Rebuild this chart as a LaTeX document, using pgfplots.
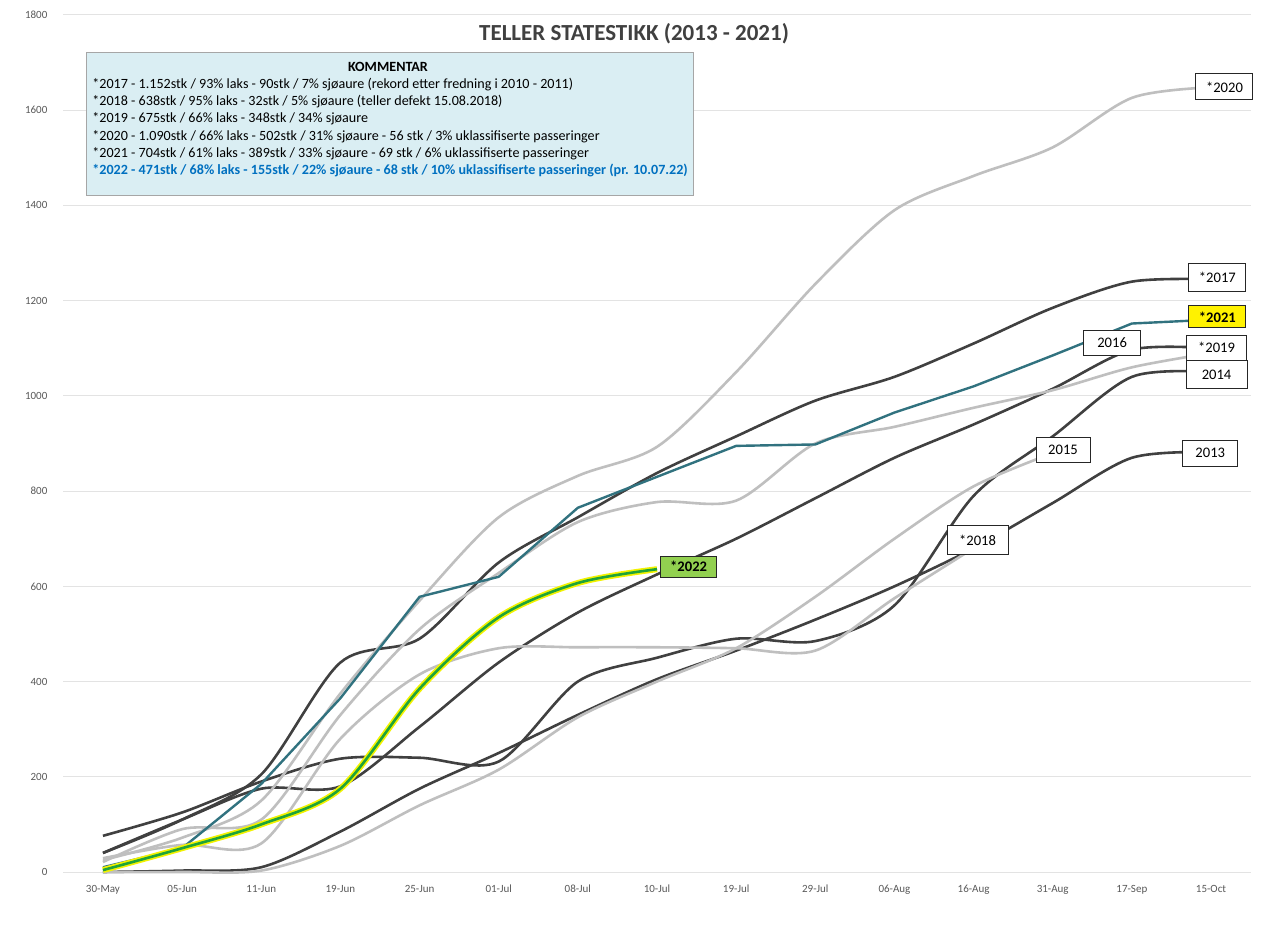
\documentclass[border=0pt]{standalone}
\usepackage{pgfplots}
\pgfplotsset{compat=1.18}
\usepackage{fontspec}
\setmainfont{Carlito}
\definecolor{dk}{HTML}{404040}
\definecolor{lg}{HTML}{BFBFBF}
\definecolor{tealc}{HTML}{31727F}
\definecolor{grn}{HTML}{1FA33A}
\definecolor{yel}{HTML}{F2F200}
\definecolor{lblgreen}{HTML}{92D050}
\definecolor{cbox}{HTML}{DAEEF3}
\definecolor{cblue}{HTML}{0070C0}
\definecolor{gridc}{HTML}{E3E3E3}
\definecolor{tickc}{HTML}{595959}
\begin{document}
\begin{tikzpicture}[
  lbl/.style={draw=black!85, line width=0.5pt, fill=white, font=\fontsize{7.3}{8}\selectfont, minimum width=28.5pt, minimum height=13pt, inner sep=0pt},
  cl/.style={anchor=base west, font=\fontsize{7.05}{8}\selectfont, inner sep=0pt}
]
\useasboundingbox (-31.7pt,-38.5pt) rectangle (599.8pt,436pt);
\fill[white] (-31.7pt,-38.5pt) rectangle (599.8pt,436pt);
\begin{axis}[at={(0pt,0pt)}, anchor=south west, scale only axis,
  width=593.6pt, height=428.5pt,
  xmin=-0.5, xmax=14.5, ymin=0, ymax=1800,
  xtick={0,...,14},
  xticklabels={30-May,05-Jun,11-Jun,19-Jun,25-Jun,01-Jul,08-Jul,10-Jul,19-Jul,29-Jul,06-Aug,16-Aug,31-Aug,17-Sep,15-Oct},
  ytick={0,200,...,1800},
  ymajorgrids, grid style={gridc, line width=0.5pt},
  axis line style={draw=none}, major tick length=0pt,
  tick label style={font=\fontsize{5.5}{6}\selectfont, color=tickc},
  /pgf/number format/assume math mode=true,
  /pgf/number format/set thousands separator={},
  yticklabel style={xshift=-4.5pt},
  xticklabel style={yshift=-3pt},
  clip=false,
]
% 2013
\addplot[dk, line width=1.3pt, smooth] coordinates {(0,0) (1,3) (2,10) (3,85) (4,175) (5,250) (6,330) (7,405) (8,465) (9,530) (10,600) (11,680) (12,775) (13,870) (14,882)};
% 2014
\addplot[dk, line width=1.3pt, smooth] coordinates {(0,76) (1,125) (2,190) (3,238) (4,240) (5,232) (6,400) (7,450) (8,490) (9,485) (10,560) (11,790) (12,915) (13,1040) (14,1050)};
% 2015
\addplot[lg, line width=1.3pt, smooth] coordinates {(0,0) (1,0) (2,3) (3,55) (4,140) (5,215) (6,325) (7,400) (8,470) (9,578) (10,700) (11,810) (12,880)};
% 2016
\addplot[dk, line width=1.3pt, smooth] coordinates {(0,40) (1,110) (2,175) (3,180) (4,305) (5,440) (6,545) (7,625) (8,700) (9,785) (10,870) (11,940) (12,1015) (13,1097) (14,1100)};
% 2017
\addplot[dk, line width=1.3pt, smooth] coordinates {(0,40) (1,110) (2,205) (3,440) (4,490) (5,650) (6,745) (7,838) (8,915) (9,990) (10,1040) (11,1110) (12,1185) (13,1240) (14,1245)};
% 2018
\addplot[lg, line width=1.3pt, smooth] coordinates {(0,29) (1,57) (2,60) (3,280) (4,415) (5,470) (6,472) (7,472) (8,470) (9,465) (10,575) (11,680)};
% 2019
\addplot[lg, line width=1.3pt, smooth] coordinates {(0,21) (1,90) (2,110) (3,330) (4,510) (5,628) (6,735) (7,777) (8,780) (9,900) (10,935) (11,975) (12,1012) (13,1060) (14,1090)};
% 2020
\addplot[lg, line width=1.3pt, smooth] coordinates {(0,25) (1,72) (2,150) (3,375) (4,570) (5,745) (6,832) (7,893) (8,1050) (9,1235) (10,1390) (11,1462) (12,1522) (13,1626) (14,1648)};
% 2021
\addplot[tealc, line width=1.2pt] coordinates {(0,10) (1,50) (2,185) (3,365) (4,578) (5,620) (6,765) (7,830) (8,895) (9,898) (10,965) (11,1020) (12,1085) (13,1152) (14,1160)};
% 2022 glow + line
\addplot[yel, line width=3pt, smooth] coordinates {(0,4) (1,50) (2,100) (3,175) (4,385) (5,535) (6,607) (7,636)};
\addplot[grn, line width=1.3pt, smooth] coordinates {(0,4) (1,50) (2,100) (3,175) (4,385) (5,535) (6,607) (7,636)};
% labels
\node[lbl] at (axis cs:14.17,1649) {*2020};
\node[lbl, minimum height=14pt] at (axis cs:14.08,1248) {*2017};
\node[lbl, fill=yellow, minimum height=11pt, font=\bfseries\fontsize{7.3}{8}\selectfont] at (axis cs:14.08,1166) {*2021};
\node[lbl, minimum height=12.5pt] at (axis cs:12.75,1111) {2016};
\node[lbl, minimum width=30pt, minimum height=12.5pt] at (axis cs:14.07,1101) {*2019};
\node[lbl, minimum width=30.5pt, minimum height=14pt] at (axis cs:14.07,1044) {2014};
\node[lbl, minimum width=27pt, minimum height=12.5pt] at (axis cs:12.13,886) {2015};
\node[lbl, minimum width=27.5pt] at (axis cs:13.99,880) {2013};
\node[lbl, minimum width=30.5pt, minimum height=14.5pt] at (axis cs:11.05,697) {*2018};
\node[lbl, fill=lblgreen, minimum width=28pt, minimum height=10.5pt, font=\bfseries\fontsize{7.3}{8}\selectfont] at (axis cs:7.4,641) {*2022};
\end{axis}
% title
\node[anchor=base, font=\bfseries\fontsize{11.5}{13}\selectfont, color=dk, inner sep=0pt] at (285.3pt,415.5pt) {TELLER STATESTIKK (2013 - 2021)};
% comment box
\draw[draw=black!35, fill=cbox, line width=0.5pt] (11.3pt,409.5pt) rectangle (315pt,338pt);
\node[anchor=base, font=\bfseries\fontsize{7.05}{8}\selectfont, inner sep=0pt] at (162.3pt,400pt) {KOMMENTAR};
\node[cl] at (14.3pt,391.5pt) {*2017 - 1.152stk / 93\% laks - 90stk / 7\% sjøaure (rekord etter fredning i 2010 - 2011)};
\node[cl] at (14.3pt,383pt) {*2018 - 638stk / 95\% laks - 32stk / 5\% sjøaure (teller defekt 15.08.2018)};
\node[cl] at (14.3pt,374.5pt) {*2019 - 675stk / 66\% laks - 348stk / 34\% sjøaure};
\node[cl] at (14.3pt,365.5pt) {*2020 - 1.090stk / 66\% laks - 502stk / 31\% sjøaure - 56 stk / 3\% uklassifiserte passeringer};
\node[cl] at (14.3pt,357pt) {*2021 - 704stk / 61\% laks - 389stk / 33\% sjøaure - 69 stk / 6\% uklassifiserte passeringer};
\node[cl, font=\bfseries\fontsize{7.05}{8}\selectfont, color=cblue] at (14.3pt,348.5pt) {*2022 - 471stk / 68\% laks - 155stk / 22\% sjøaure - 68 stk / 10\% uklassifiserte passeringer (pr. 10.07.22)};
\end{tikzpicture}
\end{document}
